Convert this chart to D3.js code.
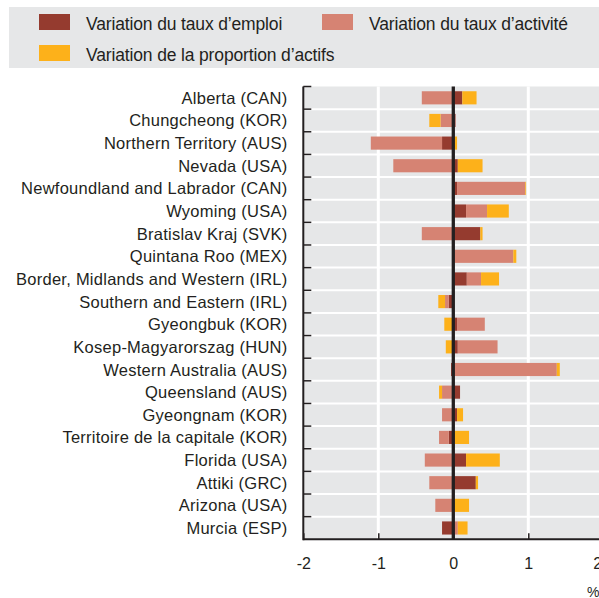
<!DOCTYPE html>
<html>
<head>
<meta charset="utf-8">
<script src="https://cdn.jsdelivr.net/npm/d3@7"></script>
<style>
  html, body { margin: 0; padding: 0; background: #fff; }
  svg { display: block; }
  text { font-family: "Liberation Sans", Arial, sans-serif; fill: #231f20; }
</style>
</head>
<body>
<svg id="chart" width="599" height="598"></svg>
<script>
const categories = [
  "Alberta (CAN)", "Chungcheong (KOR)", "Northern Territory (AUS)", "Nevada (USA)",
  "Newfoundland and Labrador (CAN)", "Wyoming (USA)", "Bratislav Kraj (SVK)",
  "Quintana Roo (MEX)", "Border, Midlands and Western (IRL)", "Southern and Eastern (IRL)",
  "Gyeongbuk (KOR)", "Kosep-Magyarorszag (HUN)", "Western Australia (AUS)",
  "Queensland (AUS)", "Gyeongnam (KOR)", "Territoire de la capitale (KOR)",
  "Florida (USA)", "Attiki (GRC)", "Arizona (USA)", "Murcia (ESP)"
];
const emploi     = [0.12, 0.03, -0.15, 0.06, 0.05, 0.17, 0.36, 0.01, 0.18, -0.06, 0.05, 0.06, -0.03, 0.09, 0.05, -0.06, 0.17, 0.30, 0.00, -0.15];
const activite   = [-0.42, -0.17, -0.95, -0.80, 0.91, 0.28, -0.42, 0.79, 0.19, -0.05, 0.37, 0.53, 1.38, -0.15, -0.15, -0.13, -0.38, -0.32, -0.24, 0.06];
const proportion = [0.19, -0.15, 0.05, 0.33, 0.01, 0.29, 0.03, 0.04, 0.24, -0.09, -0.12, -0.10, 0.04, -0.04, 0.08, 0.21, 0.45, 0.03, 0.21, 0.13];
const seriesNames = ["Variation du taux d\u2019emploi", "Variation du taux d\u2019activit\u00e9", "Variation de la proportion d\u2019actifs"];
const xTicks = [-2, -1, 0, 1, 2];

const colors = ["#953b2f", "#d68373", "#fdb11a"];
const keys = ["emploi", "activite", "proportion"];
const table = categories.map((c, i) => ({ cat: c, emploi: emploi[i], activite: activite[i], proportion: proportion[i] }));

const svg = d3.select("#chart");
const W = 599;
const plotLeft = 303.3, plotTop = 86.5, plotBottom = 539.3;

const x = d3.scaleLinear().domain([-2, 2]).range([plotLeft, plotLeft + 300]);
const yRow = d3.scaleBand().domain(categories).range([plotTop, plotBottom]).padding(0);
const y = d3.scaleBand().domain(categories).range([plotTop, plotBottom]).paddingInner(0.42).paddingOuter(0.21);

// Legend
const lg = svg.append("g");
lg.append("rect").attr("x", 9).attr("y", 7).attr("width", W - 9).attr("height", 61).attr("fill", "#e6e7e8");
const legendPos = [[39, 14], [322, 14], [39, 45]];
seriesNames.forEach((name, i) => {
  const [lx, ly] = legendPos[i];
  lg.append("rect").attr("x", lx).attr("y", ly).attr("width", 31).attr("height", 16).attr("fill", colors[i]);
  lg.append("text").attr("x", lx + 47).attr("y", ly + 15.5)
    .attr("font-size", 17.5).attr("letter-spacing", -0.15).text(name);
});

// Plot background
svg.append("rect").attr("x", plotLeft).attr("y", plotTop).attr("width", W - plotLeft).attr("height", plotBottom - plotTop).attr("fill", "#e6e7e8");

// Gridlines
const grid = svg.append("g");
categories.slice(1).forEach(c => {
  grid.append("line").attr("x1", plotLeft).attr("x2", W).attr("y1", yRow(c)).attr("y2", yRow(c))
    .attr("stroke", "#fff").attr("stroke-width", 2);
});
[-1, 1].forEach(v => {
  grid.append("line").attr("x1", x(v)).attr("x2", x(v)).attr("y1", plotTop).attr("y2", plotBottom)
    .attr("stroke", "#fff").attr("stroke-width", 3);
});

// Bars
const stack = d3.stack().keys(keys).offset(d3.stackOffsetDiverging);
const series = stack(table);
svg.append("g").selectAll("g").data(series).join("g")
  .attr("fill", (d, i) => colors[i])
  .selectAll("rect").data(d => d).join("rect")
  .attr("x", d => x(Math.min(d[0], d[1])))
  .attr("width", d => Math.abs(x(d[1]) - x(d[0])))
  .attr("y", d => y(d.data.cat))
  .attr("height", y.bandwidth());

// Zero line
svg.append("line").attr("x1", x(0)).attr("x2", x(0)).attr("y1", plotTop).attr("y2", plotBottom)
  .attr("stroke", "#231f20").attr("stroke-width", 3.3);

// Left axis
const la = svg.append("g");
la.append("line").attr("x1", plotLeft).attr("x2", plotLeft).attr("y1", plotTop).attr("y2", plotBottom + 1)
  .attr("stroke", "#231f20").attr("stroke-width", 2);
categories.forEach(c => {
  la.append("line").attr("x1", plotLeft).attr("x2", plotLeft + 8).attr("y1", yRow(c)).attr("y2", yRow(c))
    .attr("stroke", "#231f20").attr("stroke-width", 1.5);
});
la.selectAll("text.lab").data(categories).join("text").attr("class", "lab")
  .attr("x", 287.5).attr("y", d => yRow(d) + yRow.bandwidth() / 2 + 6)
  .attr("text-anchor", "end").attr("font-size", 16.5).attr("letter-spacing", 0.25)
  .text(d => d);

// Bottom axis
const xAxis = d3.axisBottom(x).tickValues(xTicks).tickSize(-6).tickPadding(18).tickFormat(d => String(d));
const ba = svg.append("g").attr("transform", `translate(0,${plotBottom})`).call(xAxis);
ba.select(".domain").attr("stroke", "#231f20").attr("stroke-width", 2).attr("d", `M${plotLeft},0H${W}`);
ba.selectAll(".tick line").attr("stroke", "#231f20").attr("stroke-width", 1.5);
ba.selectAll(".tick text").attr("font-size", 16).attr("font-family", "Liberation Sans, Arial, sans-serif").attr("fill", "#231f20")
  .attr("dx", d => d === 2 ? -6 : 0);

svg.append("text").attr("x", 587).attr("y", 597).attr("font-size", 14).text("%");
</script>
</body>
</html>
